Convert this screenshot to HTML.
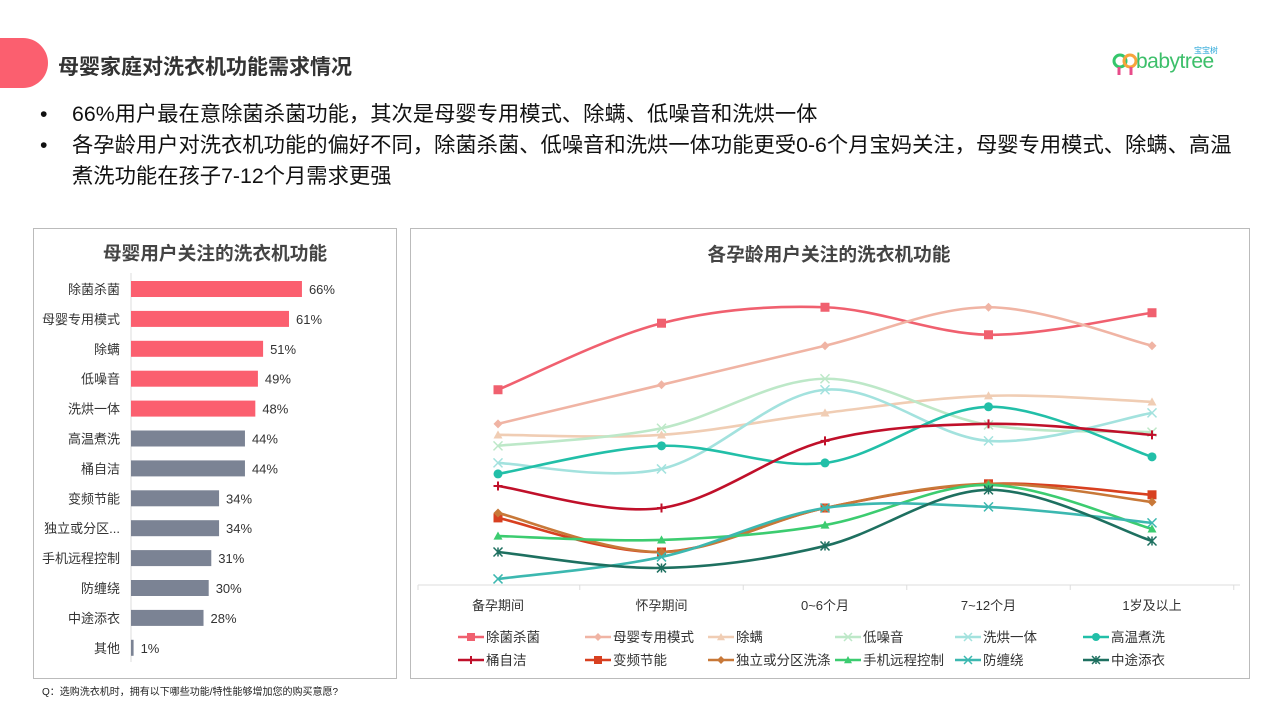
<!DOCTYPE html>
<html><head><meta charset="utf-8">
<style>
*{margin:0;padding:0;box-sizing:border-box}
body{width:1280px;height:720px;background:#fff;position:relative;overflow:hidden;font-family:"Liberation Sans","Noto Sans CJK SC",sans-serif;color:#222}
.abs{position:absolute}
</style></head><body>
<div class="abs" style="left:-20px;top:38px;width:68px;height:50px;background:#fb5f6f;border-radius:0 25px 25px 0"></div>
<div class="abs" style="left:58px;top:51px;font-size:21px;font-weight:bold;color:#333">母婴家庭对洗衣机功能需求情况</div>
<div class="abs" style="left:1112px;top:47px;width:120px;height:30px">
<svg width="30" height="28" style="position:absolute;left:0;top:4px"><circle cx="8" cy="10" r="6" fill="none" stroke="#35c66b" stroke-width="3"/><circle cx="18" cy="10" r="6" fill="none" stroke="#f7a43c" stroke-width="3"/><path d="M7 16 L7 24 M19 16 L19 24" stroke="#e84c8a" stroke-width="3"/></svg>
<span style="position:absolute;left:24px;top:3px;font-size:21px;color:#3cbf6a;letter-spacing:-0.5px">babytree</span>
<span style="position:absolute;left:82px;top:-2px;font-size:8px;color:#2aa7d8">宝宝树</span>
</div>
<div class="abs" style="left:40px;top:99px;font-size:21.3px;line-height:31px;color:#111">
<div><span style="display:inline-block;width:32px">•</span>66%用户最在意除菌杀菌功能，其次是母婴专用模式、除螨、低噪音和洗烘一体</div>
<div style="white-space:nowrap"><span style="display:inline-block;width:32px">•</span>各孕龄用户对洗衣机功能的偏好不同，除菌杀菌、低噪音和洗烘一体功能更受0-6个月宝妈关注，母婴专用模式、除螨、高温</div>
<div style="padding-left:32px">煮洗功能在孩子7-12个月需求更强</div>
</div>
<div class="abs" style="left:33px;top:228px;width:364px;height:451px;border:1px solid #bbb"></div>
<div class="abs" style="left:410px;top:228px;width:840px;height:451px;border:1px solid #bbb"></div>
<div class="abs" style="left:42px;top:683px;font-size:10px;color:#222">Q：选购洗衣机时，拥有以下哪些功能/特性能够增加您的购买意愿?</div>
<svg class="abs" style="left:0;top:0" width="1280" height="720" id="chart">
<text x="215" y="260" text-anchor="middle" font-size="18.7" font-weight="bold" fill="#444">母婴用户关注的洗衣机功能</text>
<text x="829" y="261" text-anchor="middle" font-size="18.7" font-weight="bold" fill="#444">各孕龄用户关注的洗衣机功能</text>
<line x1="131" y1="273" x2="131" y2="662" stroke="#ddd"/>
<line x1="418" y1="585" x2="1240" y2="585" stroke="#ddd"/>
<g id="bars"></g><g id="lines"></g><g id="legend"></g>
</svg>
<script>
const barCats=["除菌杀菌","母婴专用模式","除螨","低噪音","洗烘一体","高温煮洗","桶自洁","变频节能","独立或分区...","手机远程控制","防缠绕","中途添衣","其他"];
const barVals=[66,61,51,49,48,44,44,34,34,31,30,28,1];
const barHighlight=5;
const periods=["备孕期间","怀孕期间","0~6个月","7~12个月","1岁及以上"];
const seriesNames=["除菌杀菌","母婴专用模式","除螨","低噪音","洗烘一体","高温煮洗","桶自洁","变频节能","独立或分区洗涤","手机远程控制","防缠绕","中途添衣"];
const s0=[50.5,62.6,65.5,60.5,64.5];
const s1=[44.3,51.4,58.5,65.5,58.5];
const s2=[42.3,42.3,46.3,49.4,48.3];
const s3=[40.3,43.5,52.5,44.1,42.8];
const s4=[37.2,36.1,50.5,41.2,46.3];
const s5=[35.2,40.3,37.2,47.4,38.3];
const s6=[33.0,29.0,41.2,44.3,42.3];
const s7=[27.2,21.0,29.0,33.4,31.4];
const s8=[28.1,21.0,29.0,33.4,30.1];
const s9=[23.9,23.2,25.9,33.2,25.2];
const s10=[16.1,20.1,29.0,29.2,26.3];
const s11=[21.0,18.1,22.1,32.3,23.0];
const seriesVals=[s0,s1,s2,s3,s4,s5,s6,s7,s8,s9,s10,s11];
const colors=["#f0606f","#f0b4a4","#f0cdb4","#bde8c8","#a3e2de","#22bfa8","#c0102a","#d84020","#c87838","#3ccc70","#3cb8b0","#1e7060"];
const markers=["square","diamond","triangle","x","x","circle","plus","square","diamond","triangle","x","star"];
const NS="http://www.w3.org/2000/svg";
function mk(t,a,p){const e=document.createElementNS(NS,t);for(const k in a)e.setAttribute(k,a[k]);p.appendChild(e);return e;}
const bx=v=>131+v*2.59, by=i=>289+i*29.9;
const gb=document.getElementById('bars');
barCats.forEach((c,i)=>{
 const r=mk('rect',{x:131,y:by(i)-8,width:bx(barVals[i])-131,height:16,fill:i<barHighlight?'#fb5f6f':'#7b8394'},gb);
 
 
 const t=mk('text',{x:120,y:by(i)+5,'text-anchor':'end','font-size':13,fill:'#333'},gb);t.textContent=c;
 
 
 const v=mk('text',{x:bx(barVals[i])+7,y:by(i)+5,'font-size':13,fill:'#333'},gb);v.textContent=barVals[i]+'%';
 
 
});
const lx=i=>498+i*163.5, ly=v=>585-(v-15)*5.5;
const gl=document.getElementById('lines');
periods.forEach((p,i)=>{
 const t=mk('text',{x:lx(i),y:610,'text-anchor':'middle','font-size':13,fill:'#333'},gl);t.textContent=p;
 
 
 mk('line',{x1:lx(i)+81.75,y1:585,x2:lx(i)+81.75,y2:590,stroke:'#ddd'},gl);
});
mk('line',{x1:418,y1:585,x2:418,y2:590,stroke:'#ddd'},gl);
function drawMarker(g,type,x,y,c,s){
 s=s||5;
 if(type==='square')mk('rect',{x:x-s,y:y-s,width:2*s,height:2*s,fill:c},g);
 else if(type==='diamond')mk('path',{d:`M${x} ${y-s}L${x+s} ${y}L${x} ${y+s}L${x-s} ${y}Z`,fill:c},g);
 else if(type==='triangle')mk('path',{d:`M${x} ${y-s}L${x+s} ${y+s*0.8}L${x-s} ${y+s*0.8}Z`,fill:c},g);
 else if(type==='circle')mk('circle',{cx:x,cy:y,r:s,fill:c},g);
 else if(type==='plus')mk('path',{d:`M${x-s} ${y}H${x+s}M${x} ${y-s}V${y+s}`,stroke:c,'stroke-width':2},g);
 else if(type==='x')mk('path',{d:`M${x-s} ${y-s}L${x+s} ${y+s}M${x+s} ${y-s}L${x-s} ${y+s}`,stroke:c,'stroke-width':1.5},g);
 else mk('path',{d:`M${x-s} ${y-s}L${x+s} ${y+s}M${x+s} ${y-s}L${x-s} ${y+s}M${x} ${y-s}V${y+s}`,stroke:c,'stroke-width':1.5},g);
}
function smooth(pts){
 let d=`M${pts[0][0]} ${pts[0][1]}`;
 for(let i=0;i<pts.length-1;i++){
  const p0=pts[i-1]||pts[i],p1=pts[i],p2=pts[i+1],p3=pts[i+2]||p2;
  const t=1/6;
  d+=`C${p1[0]+(p2[0]-p0[0])*t} ${p1[1]+(p2[1]-p0[1])*t},${p2[0]-(p3[0]-p1[0])*t} ${p2[1]-(p3[1]-p1[1])*t},${p2[0]} ${p2[1]}`;
 }
 return d;
}
seriesVals.forEach((vals,si)=>{
 const g=mk('g',{},gl);
 
 
 const pts=vals.map((v,i)=>[lx(i),ly(v)]);
 mk('path',{d:smooth(pts),fill:'none',stroke:colors[si],'stroke-width':2.6},g);
 pts.forEach(p=>drawMarker(g,markers[si],p[0],p[1],colors[si],4.5));
});
const lg=document.getElementById('legend');
const colX=[458,585,708,835,955,1083];
seriesNames.forEach((n,i)=>{
 const x=colX[i%6],y=i<6?637:660;
 const g=mk('g',{},lg);
 
 
 mk('line',{x1:x,y1:y,x2:x+26,y2:y,stroke:colors[i],'stroke-width':2.6},g);
 drawMarker(g,markers[i],x+13,y,colors[i],4);
 const t=mk('text',{x:x+28,y:y+5,'font-size':13.5,fill:'#333'},g);t.textContent=n;
});
</script>
</body></html>
